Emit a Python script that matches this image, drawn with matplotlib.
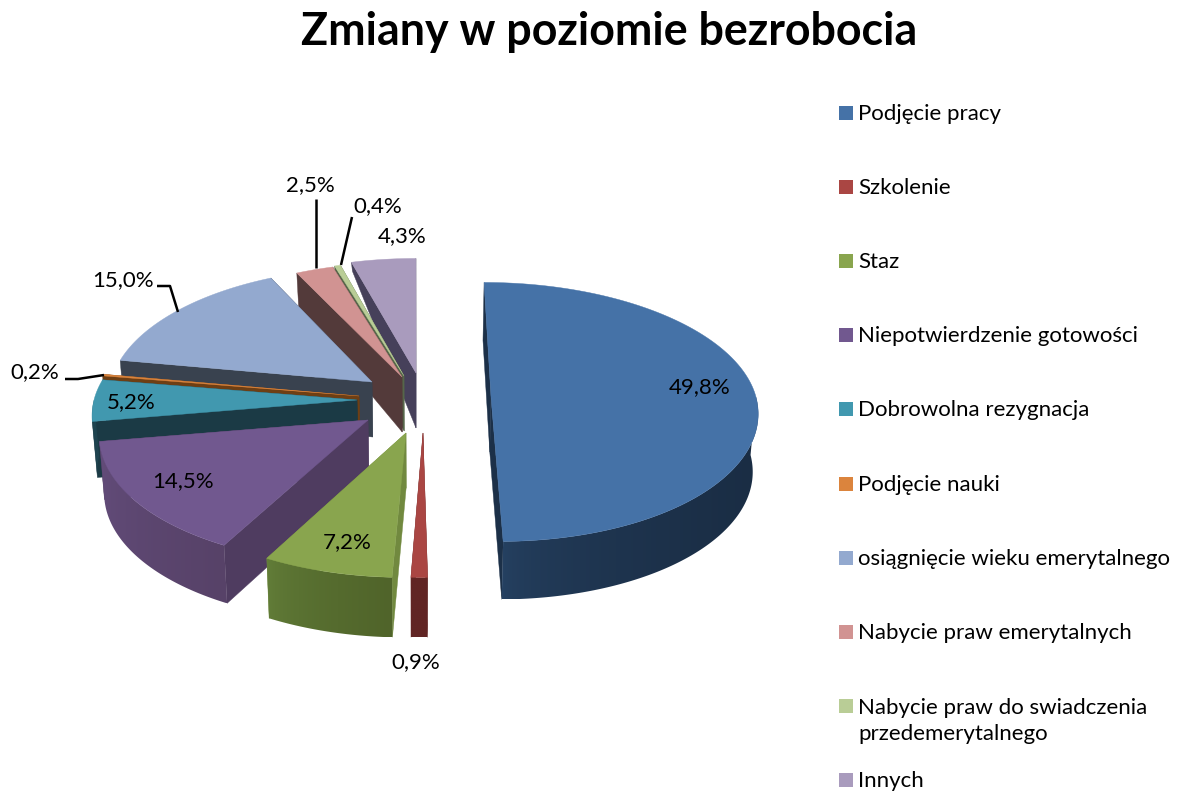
"""Exploded 3D-look pie of unemployment changes, drawn as perspective polygons."""

import matplotlib

matplotlib.use("Agg")
import matplotlib.pyplot as plt
import numpy as np
from matplotlib.colors import to_rgb
from matplotlib.patches import Polygon, Rectangle

plt.rcParams["font.family"] = ["Lato", "DejaVu Sans"]

TITLE = "Zmiany w poziomie bezrobocia"
CATEGORIES = [
    "Podjęcie pracy",
    "Szkolenie",
    "Staz",
    "Niepotwierdzenie gotowości",
    "Dobrowolna rezygnacja",
    "Podjęcie nauki",
    "osiągnięcie wieku emerytalnego",
    "Nabycie praw emerytalnych",
    "Nabycie praw do swiadczenia\nprzedemerytalnego",
    "Innych",
]
VALUES = [49.8, 0.9, 7.2, 14.5, 5.2, 0.2, 15.0, 2.5, 0.4, 4.3]

# styles
TOP_COLORS = ["#4572A7", "#AA4643", "#89A54E", "#71588F", "#4198AF",
              "#DB843D", "#93A9CF", "#D19392", "#B9CD96", "#A99BBD"]
WALL_COLORS = ["#1c3048", "#612524", "#71893f", "#4f3c60", "#1b3a45",
               "#6e3f14", "#39424f", "#533a3a", "#56664a", "#46405a"]
RIM_LEFT = ["#264263", "#612524", "#64803a", "#644d7c", "#1f4450",
            "#6e3f14", "#39424f", "#533a3a", "#56664a", "#46405a"]
RIM_RIGHT = ["#1a2d44", "#612524", "#50642a", "#574268", "#1f4450",
             "#6e3f14", "#39424f", "#533a3a", "#56664a", "#46405a"]

# layout, in pixels of the 1178x792 canvas
APEX_X = [491, 423, 406, 368, 357, 359, 372, 402, 404, 416]
APEX_Y = [397, 433, 433, 420, 400, 396, 382, 377, 376, 373]
RX = [265, 265, 265, 267, 263, 265, 261, 265, 265, 265]
FAR_DEPTH = [58, 58, 58, 58, 58, 56, 54, 35, 22, 9]
NEAR_DEPTH = [58, 60, 60, 58, 56, 56, 56, 56, 56, 56]
DRAW_ORDER = [9, 8, 7, 6, 5, 4, 3, 2, 1, 0]
VANISH_X = 415
RY_BACK, RY_FRONT, PERSP = 126, 130, 0.1
APEX_DEPTH = 55
BOTTOM_SHRINK = 0.016

LABEL_X = [700, 416, 347, 183, 131, 35, 123, 310, 378, 402]
LABEL_Y = [387, 662, 542, 481, 402, 372, 280, 185, 206, 236]
LEADERS = [
    ([316, 316], [199, 268]),
    ([352, 341], [217, 265]),
    ([157, 170, 178], [286, 286, 312]),
    ([65, 78, 104], [379, 379, 375]),
]
LEGEND_Y = [113, 187, 261, 335, 409, 484, 558, 632, 720, 780]


def rim(i, theta):
    """Project rim points of slice i at angles theta (degrees, clockwise from top)."""
    t = np.radians(theta)
    u, v = np.sin(t), np.cos(t)
    s = 1 / (1 + PERSP * v)
    x = VANISH_X + (APEX_X[i] - VANISH_X + RX[i] * u) * s
    y = APEX_Y[i] - np.where(v > 0, RY_BACK, RY_FRONT) * v * s
    return x, y


def rim_depth(i, theta):
    """Wall height at the rim: full at the front, slice dependent at the back."""
    v = np.cos(np.radians(theta))
    return np.where(v > 0.3, FAR_DEPTH[i], NEAR_DEPTH[i])


def lower(x):
    """The bottom face sits a little closer to the vanishing line."""
    return x - BOTTOM_SHRINK * (x - VANISH_X)


def wall(ax, i, theta, zorder):
    x, y = rim(i, np.array([theta]))
    d = float(rim_depth(i, np.array([theta]))[0])
    pts = [(APEX_X[i], APEX_Y[i]), (x[0], y[0]), (lower(x[0]), y[0] + d),
           (lower(APEX_X[i]), APEX_Y[i] + APEX_DEPTH)]
    ax.add_patch(Polygon(pts, closed=True, fc=WALL_COLORS[i], ec=WALL_COLORS[i],
                         lw=0.3, zorder=zorder))


def rim_face(ax, i, lo, hi, zorder):
    """Outer rim between two angles, shaded left to right."""
    angles = np.linspace(lo, hi, 120)
    xs, ys = rim(i, angles)
    ds = rim_depth(i, angles)
    outline = list(zip(xs, ys)) + list(zip(lower(xs), ys + ds))[::-1]
    patch = Polygon(outline, closed=True, fc="none", ec="none",
                    transform=ax.transData)
    ax.add_patch(patch)
    f = np.linspace(0, 1, 200)[None, :, None] ** 0.5
    shade = np.array(to_rgb(RIM_LEFT[i])) * (1 - f) + np.array(to_rgb(RIM_RIGHT[i])) * f
    box = (min(xs.min(), lower(xs).min()), max(xs.max(), lower(xs).max()),
           (ys + ds).max(), ys.min())
    im = ax.imshow(shade, extent=box, aspect="auto", zorder=zorder,
                   interpolation="bilinear")
    im.set_clip_path(patch)


fig = plt.figure(figsize=(11.78, 7.92), dpi=100)
ax = fig.add_axes([0, 0, 1, 1])
ax.axis("off")

edges = np.concatenate([[0], np.cumsum(VALUES)]) / sum(VALUES) * 360
for rank, i in enumerate(DRAW_ORDER):
    z = 2 + rank
    a0, a1 = edges[i], edges[i + 1]
    wall(ax, i, a0, z)
    wall(ax, i, a1, z)

    # outer rim, only where it faces the viewer
    lo, hi = max(a0, 90), min(a1, 270)
    if hi > lo:
        rim_face(ax, i, lo, hi, z)

    # top face
    angles = np.linspace(a0, a1, max(int(a1 - a0) * 2, 3))
    xs, ys = rim(i, angles)
    pts = [(APEX_X[i], APEX_Y[i])] + list(zip(xs, ys))
    ax.add_patch(Polygon(pts, closed=True, fc=TOP_COLORS[i], ec=TOP_COLORS[i],
                         lw=0.3, zorder=z))

for value, lx, ly in zip(VALUES, LABEL_X, LABEL_Y):
    ax.text(lx, ly, f"{value:.1f}%".replace(".", ","), ha="center", va="center",
            fontsize=16, color="black", zorder=30)
for xs, ys in LEADERS:
    ax.plot(xs, ys, color="black", lw=1.8, zorder=29, solid_capstyle="butt")

for name, color, ly in zip(CATEGORIES, TOP_COLORS, LEGEND_Y):
    first_y = ly - 14 if "\n" in name else ly
    ax.add_patch(Rectangle((839, first_y - 7), 14, 14, fc=color, ec="none"))
    ax.text(858, ly + 1, name, ha="left", va="center", fontsize=16, color="black",
            linespacing=1.33)

ax.text(609, 32, TITLE, ha="center", va="center", fontsize=32.2, fontweight="bold",
        color="black")

ax.set_xlim(0, 1178)
ax.set_ylim(792, 0)
fig.savefig("out.png", dpi=100)
plt.close(fig)
